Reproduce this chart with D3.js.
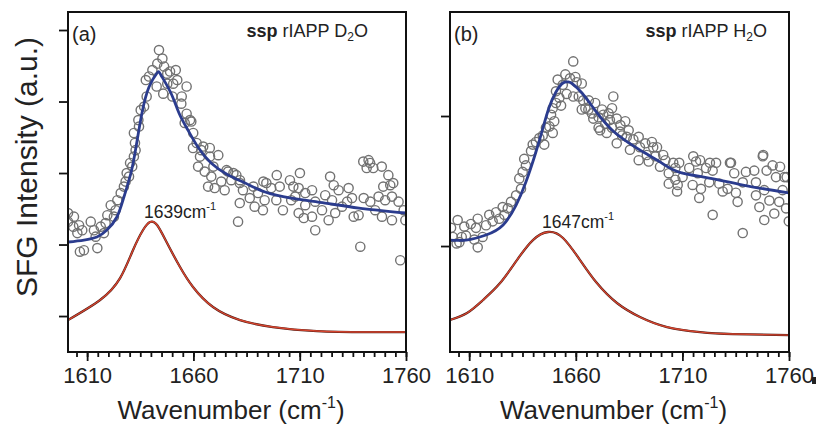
<!DOCTYPE html>
<html>
<head>
<meta charset="utf-8">
<script src="https://cdn.jsdelivr.net/npm/d3@7"></script>
<style>
  body { margin: 0; background: #fff; }
  svg text { font-family: "Liberation Sans", Arial, sans-serif; fill: #222; }
</style>
</head>
<body>
<svg id="chart" width="816" height="426"></svg>
<script>
// ---- panel (a): rIAPP in D2O ----
const aWn = [1601.0,1603.8,1601.0,1603.5,1606.2,1607.7,1605.4,1608.5,1611.7,1613.2,1614.8,1614.0,1616.4,1617.9,1618.7,1619.5,1621.1,1622.6,1623.4,1624.2,1625.8,1627.3,1628.1,1629.7,1631.2,1632.0,1632.8,1632.0,1634.4,1635.2,1636.8,1637.6,1639.1,1640.7,1643.0,1643.8,1645.4,1646.2,1647.7,1647.7,1650.1,1651.7,1652.4,1649.0,1650.5,1656.8,1654.5,1645.8,1642.7,1638.0,1634.1,1632.5,1630.2,1628.6,1656.8,1658.4,1659.9,1661.5,1664.6,1671.7,1667.8,1663.1,1675.6,1678.8,1669.4,1681.9,1688.2,1692.9,1699.2,1705.4,1710.1,1707.0,1724.3,1739.9,1743.1,1744.6,1741.5,1748.6,1751.7,1754.0,1749.3,1654.3,1659.0,1655.9,1659.8,1663.7,1667.7,1662.2,1665.3,1668.4,1666.9,1670.0,1673.1,1674.7,1676.3,1677.8,1680.2,1681.8,1683.3,1681.8,1686.5,1688.8,1692.7,1693.5,1690.4,1694.3,1696.6,1700.6,1699.0,1702.1,1706.0,1681.0,1709.5,1707.9,1712.6,1715.8,1717.3,1712.6,1709.5,1711.9,1717.3,1715.8,1720.5,1722.0,1726.0,1728.3,1725.2,1723.6,1726.7,1729.9,1733.0,1734.6,1732.3,1735.4,1737.7,1738.5,1742.4,1752.6,1740.1,1743.2,1745.5,1747.1,1750.2,1748.7,1753.4,1753.4,1756.5,1758.9,1759.7,1757.3,1606.6];
const aSig = [2.44,2.39,2.32,2.25,2.27,2.20,2.16,1.92,2.32,2.20,1.95,2.11,2.25,2.16,2.30,2.41,2.55,2.39,2.48,2.62,2.72,2.81,2.88,2.95,3.09,3.23,3.32,3.56,3.65,3.88,3.93,4.30,4.35,4.44,4.53,4.72,4.60,4.49,4.39,4.25,4.07,4.44,4.30,4.42,4.25,4.21,4.07,4.11,4.21,4.07,3.74,3.42,3.14,3.00,3.83,3.74,3.56,3.42,3.37,3.25,3.23,3.23,3.04,3.00,3.09,2.90,2.81,2.88,2.97,2.90,3.00,2.81,2.95,3.16,3.14,3.07,3.07,3.09,2.97,2.86,2.81,3.97,3.72,3.70,3.35,3.32,3.35,3.09,3.02,2.95,2.81,2.79,2.88,2.76,3.02,2.90,2.97,2.86,2.76,2.58,2.65,2.53,2.48,2.62,2.72,2.86,2.79,2.81,2.62,2.48,2.62,2.32,2.79,2.67,2.72,2.76,2.60,2.55,2.44,2.37,2.20,2.39,2.48,2.69,2.83,2.76,2.62,2.34,2.44,2.53,2.79,2.65,2.60,2.39,2.41,1.97,3.18,2.83,2.65,2.60,2.48,2.67,2.62,2.39,2.34,2.67,2.60,2.48,2.34,1.78,1.90];
const aFitWn = [1601.0,1608.5,1614.6,1619.3,1624.0,1627.3,1630.6,1633.0,1635.8,1639.1,1642.9,1644.7,1649.4,1653.2,1657.4,1662.1,1668.3,1676.3,1684.3,1693.7,1705.9,1721.9,1737.9,1760.0];
const aFit = [2.035,2.063,2.105,2.203,2.385,2.664,3.0,3.364,3.839,4.203,4.399,4.371,4.119,3.839,3.601,3.364,3.140,2.972,2.860,2.734,2.650,2.580,2.510,2.441];
const aPeakWn = [1601.0,1616.1,1625.5,1631.6,1636.3,1639.6,1642.9,1647.6,1653.7,1659.8,1669.2,1681.9,1697.4,1718.1,1741.6,1760.0];
const aPeak = [0.944,1.224,1.530,1.923,2.203,2.315,2.273,2.021,1.685,1.406,1.126,0.944,0.846,0.790,0.776,0.776];

// ---- panel (b): rIAPP in H2O ----
const bWn = [1601.5,1604.6,1602.3,1605.4,1607.7,1608.5,1610.8,1613.2,1614.0,1612.4,1614.0,1616.3,1617.9,1619.4,1621.0,1622.6,1624.1,1625.7,1626.5,1628.1,1629.6,1632.0,1634.3,1633.5,1635.1,1636.6,1635.8,1639.0,1639.8,1641.3,1642.9,1644.5,1645.2,1646.0,1647.6,1649.2,1649.9,1648.4,1649.2,1650.7,1652.3,1650.7,1651.5,1653.9,1653.1,1606.5,1604.1,1658.8,1657.3,1660.4,1662.8,1655.7,1658.8,1663.5,1662.8,1665.9,1668.2,1677.6,1672.9,1676.0,1679.2,1671.4,1674.5,1680.7,1683.9,1687.0,1690.1,1696.3,1679.2,1685.4,1693.3,1701.0,1699.5,1705.7,1715.1,1718.3,1722.9,1732.3,1747.9,1749.5,1755.8,1758.9,1655.1,1659.8,1661.4,1666.1,1664.5,1669.1,1667.6,1670.7,1672.3,1675.4,1677.0,1673.8,1670.7,1677.0,1680.9,1683.2,1684.8,1681.7,1689.5,1692.6,1695.7,1698.1,1689.5,1694.2,1697.3,1703.6,1706.7,1706.7,1703.6,1707.5,1702.0,1708.5,1710.1,1707.8,1713.2,1716.4,1717.2,1714.8,1718.7,1717.9,1721.1,1724.2,1725.8,1722.6,1727.3,1728.9,1731.2,1732.8,1734.3,1735.1,1735.9,1738.3,1739.8,1743.7,1744.5,1744.5,1746.1,1747.7,1748.4,1750.8,1752.3,1753.9,1753.1,1755.4,1757.0,1757.8,1758.6,1759.9,1724.2,1738.3,1748.4];
const bSig = [1.14,1.20,1.07,1.03,1.15,1.08,1.17,1.14,1.21,1.05,0.99,1.07,1.16,1.24,1.19,1.26,1.21,1.30,1.24,1.29,1.34,1.39,1.44,1.52,1.57,1.62,1.67,1.73,1.78,1.80,1.83,1.85,1.78,1.91,1.92,1.87,1.96,2.01,2.06,2.10,2.14,2.19,2.28,2.24,2.08,1.07,1.02,2.42,2.29,2.26,2.25,2.17,2.15,2.12,2.05,2.05,1.98,2.15,2.01,1.97,1.98,1.89,1.87,1.88,1.84,1.82,1.76,1.76,1.79,1.74,1.70,1.70,1.61,1.64,1.69,1.66,1.64,1.64,1.70,1.58,1.61,1.53,2.32,2.30,2.15,2.12,2.06,2.10,2.02,1.99,2.05,2.02,2.06,1.94,1.91,1.91,1.93,1.96,1.89,1.85,1.84,1.79,1.80,1.76,1.66,1.65,1.69,1.56,1.60,1.51,1.48,1.42,1.66,1.64,1.53,1.47,1.60,1.65,1.56,1.47,1.44,1.37,1.60,1.58,1.64,1.49,1.48,1.42,1.44,1.64,1.56,1.41,1.34,1.49,1.57,1.58,1.49,1.39,1.30,1.69,1.43,1.35,1.62,1.53,1.25,1.34,1.43,1.53,1.29,1.19,1.24,1.10,1.20];
const bFitWn = [1601.0,1608.5,1617.9,1625.9,1632.0,1636.6,1641.3,1644.6,1647.4,1650.7,1654.0,1656.3,1658.2,1662.9,1669.0,1677.0,1685.0,1692.5,1700.4,1708.4,1722.5,1738.4,1760.0];
const bFit = [1.046,1.046,1.085,1.162,1.315,1.492,1.723,1.908,2.062,2.185,2.254,2.262,2.250,2.177,2.046,1.892,1.792,1.715,1.638,1.569,1.523,1.469,1.408];
const bPeakWn = [1601.0,1609.0,1616.5,1624.5,1632.4,1639.9,1647.0,1654.0,1662.0,1669.9,1679.3,1690.1,1702.8,1718.3,1733.7,1760.0];
const bPeak = [0.431,0.485,0.585,0.715,0.892,1.046,1.108,1.062,0.892,0.715,0.562,0.454,0.377,0.338,0.323,0.315];

// ---- axes ----
const xDomain = [1601, 1760];
const xMajor = [1610, 1660, 1710, 1760];
const xMinor = d3.range(1605, 1761, 5);
const aYTicks = [1, 2, 3, 4, 5];
const bYTicks = [1, 2];

const svg = d3.select("#chart");

function drawPanel(p) {
  const x = d3.scaleLinear().domain(xDomain).range([p.left, p.right]);
  const y = d3.scaleLinear().domain(p.yDomain).range([p.bottom, p.top]);
  const g = svg.append("g");

  g.append("clipPath").attr("id", "clip-" + p.id)
    .append("rect")
    .attr("x", p.left).attr("y", p.top)
    .attr("width", p.right - p.left).attr("height", p.bottom - p.top);

  const plot = g.append("g").attr("clip-path", `url(#clip-${p.id})`);

  // measured points, open circles
  plot.selectAll("circle")
    .data(p.wn.map((w, i) => [w, p.sig[i]]))
    .join("circle")
    .attr("cx", d => x(d[0]))
    .attr("cy", d => y(d[1]))
    .attr("r", 4.6)
    .attr("fill", "none")
    .attr("stroke", "#727272")
    .attr("stroke-width", 1.4);

  const line = d3.line().curve(d3.curveNatural)
    .x(d => x(d[0])).y(d => y(d[1]));

  plot.append("path")
    .attr("d", line(p.fitWn.map((w, i) => [w, p.fit[i]])))
    .attr("fill", "none").attr("stroke", "#2b3c8e").attr("stroke-width", 2.8);

  const peakPts = p.peakWn.map((w, i) => [w, p.peak[i]]);
  plot.append("path")
    .attr("d", line(peakPts))
    .attr("fill", "none").attr("stroke", "#4a1a14").attr("stroke-width", 2.3);
  plot.append("path")
    .attr("d", line(peakPts))
    .attr("fill", "none").attr("stroke", "#d6452f").attr("stroke-width", 1.4);

  // x axis: minor then major ticks
  g.append("g")
    .attr("transform", `translate(0,${p.bottom})`)
    .call(d3.axisBottom(x).tickValues(xMinor).tickSize(5).tickFormat(""))
    .call(a => a.select(".domain").remove())
    .call(a => a.selectAll("line").attr("stroke", "#111").attr("stroke-width", 1.8));

  g.append("g")
    .attr("transform", `translate(0,${p.bottom})`)
    .call(d3.axisBottom(x).tickValues(xMajor).tickSize(9).tickPadding(6).tickFormat(d3.format("d")))
    .call(a => a.select(".domain").remove())
    .call(a => a.selectAll("line").attr("stroke", "#111").attr("stroke-width", 1.8))
    .call(a => a.selectAll("text").attr("font-size", 22).attr("fill", "#222"));

  // y axis ticks, no labels
  g.append("g")
    .attr("transform", `translate(${p.left},0)`)
    .call(d3.axisLeft(y).tickValues(p.yTicks).tickSize(9).tickFormat(""))
    .call(a => a.select(".domain").remove())
    .call(a => a.selectAll("line").attr("stroke", "#111").attr("stroke-width", 1.8));

  // frame
  g.append("rect")
    .attr("x", p.left).attr("y", p.top)
    .attr("width", p.right - p.left).attr("height", p.bottom - p.top)
    .attr("fill", "none").attr("stroke", "#111").attr("stroke-width", 2);

  // panel letter
  g.append("text").attr("x", p.left + 4).attr("y", p.top + 29)
    .attr("font-size", 20).text(p.letter);

  // sample label
  const lab = g.append("text").attr("x", p.labelEnd).attr("y", p.top + 25)
    .attr("text-anchor", "end").attr("font-size", 18);
  lab.append("tspan").attr("font-weight", "bold").text("ssp");
  lab.append("tspan").text(p.gap + "rIAPP " + p.solvent[0]);
  lab.append("tspan").attr("font-size", 12).attr("dy", 4).text("2");
  lab.append("tspan").attr("dy", -4).text("O");

  // peak position annotation
  const iMax = d3.maxIndex(p.peak);
  const ann = g.append("text")
    .attr("x", x(p.peakWn[iMax]) - 6)
    .attr("y", y(p.peak[iMax]) - 4)
    .attr("font-size", 17.5);
  ann.append("tspan").text(p.center + "cm");
  ann.append("tspan").attr("font-size", 11).attr("dy", -8).text("-1");

  // x title
  const xt = g.append("text")
    .attr("x", (p.left + p.right) / 2 - 6).attr("y", 419)
    .attr("text-anchor", "middle").attr("font-size", 26);
  xt.append("tspan").text("Wavenumber (cm");
  xt.append("tspan").attr("font-size", 16).attr("dy", -11).text("-1");
  xt.append("tspan").attr("dy", 11).text(")");
}

drawPanel({
  id: "a", letter: "(a)", left: 68, right: 406, top: 12, bottom: 352,
  yDomain: [0.497, 5.252], yTicks: aYTicks,
  wn: aWn, sig: aSig, fitWn: aFitWn, fit: aFit, peakWn: aPeakWn, peak: aPeak,
  center: 1639, solvent: "D", gap: " ", labelEnd: 368
});

drawPanel({
  id: "b", letter: "(b)", left: 450, right: 789, top: 12, bottom: 352,
  yDomain: [0.185, 2.80], yTicks: bYTicks,
  wn: bWn, sig: bSig, fitWn: bFitWn, fit: bFit, peakWn: bPeakWn, peak: bPeak,
  center: 1647, solvent: "H", gap: "  ", labelEnd: 767
});

// shared y title
svg.append("text")
  .attr("transform", "translate(37,167) rotate(-90)")
  .attr("text-anchor", "middle").attr("font-size", 30)
  .text("SFG Intensity (a.u.)");

// small dark mark right of the last tick label
svg.append("rect").attr("x", 812).attr("y", 377).attr("width", 4).attr("height", 7).attr("fill", "#222");
</script>
</body>
</html>
